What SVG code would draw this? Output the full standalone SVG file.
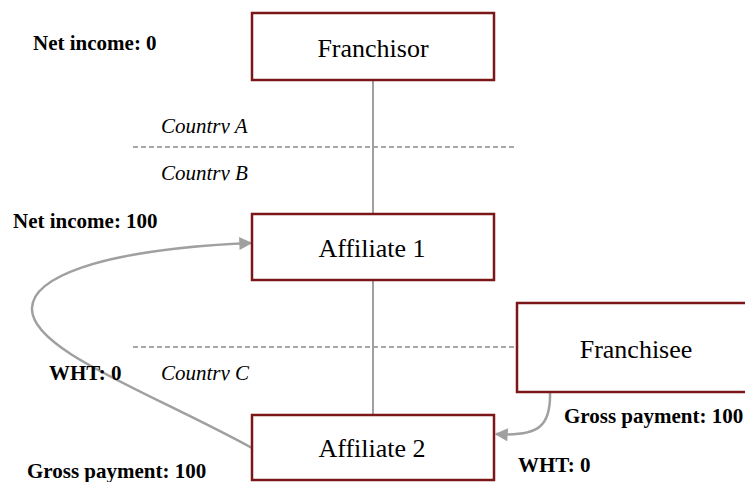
<svg xmlns="http://www.w3.org/2000/svg" width="745" height="482" viewBox="0 0 745 482">
  <style>
    .box { fill: #ffffff; stroke: #7b1719; stroke-width: 2.5; }
    .name { font-family: "Liberation Serif", "Times New Roman", serif; font-size: 26px; fill: #000; text-anchor: middle; }
    .lbl { font-family: "Liberation Serif", "Times New Roman", serif; font-size: 21px; font-weight: bold; fill: #000; }
    .ctry { font-family: "Liberation Serif", "Times New Roman", serif; font-size: 21px; font-style: italic; fill: #000; }
    .border { stroke: #8a8a8a; stroke-width: 1.5; stroke-dasharray: 5 3; fill: none; }
    .link { stroke: #a0a0a0; stroke-width: 2; fill: none; }
    .flow { stroke: #a0a0a0; stroke-width: 2.5; fill: none; marker-end: url(#head); }
  </style>
  <defs>
    <marker id="head" viewBox="0 0 10 10" refX="9" refY="5" markerUnits="userSpaceOnUse" markerWidth="16" markerHeight="13" orient="auto">
      <path d="M0,0 L10,5 L0,10 z" fill="#a0a0a0"/>
    </marker>
    <!-- country captions are cut at the baseline -->
    <clipPath id="ctryClip">
      <rect x="150" y="100" width="120" height="33.5"/>
      <rect x="150" y="150" width="120" height="30.5"/>
      <rect x="150" y="350" width="120" height="30.5"/>
    </clipPath>
  </defs>

  <!-- country borders -->
  <g id="borders">
    <line class="border" x1="133" y1="147" x2="515" y2="147"/>
    <line class="border" x1="133" y1="347" x2="517" y2="347"/>
  </g>

  <!-- connectors -->
  <g id="connectors">
    <line class="link" x1="373" y1="80" x2="373" y2="214"/>
    <line class="link" x1="373" y1="280" x2="373" y2="415"/>
    <path class="flow" d="M252,448 C150,392 30,350 32,308 C33,280 90,250 251,243"/>
    <path class="flow" d="M550,392 C551,425 540,437 496,434"/>
  </g>

  <g id="franchisor">
    <rect class="box" x="252" y="13" width="242" height="67"/>
    <text class="name" x="373" y="57">Franchisor</text>
  </g>

  <g id="affiliate1">
    <rect class="box" x="252" y="214" width="242" height="66"/>
    <text class="name" x="372" y="257">Affiliate 1</text>
  </g>

  <g id="affiliate2">
    <rect class="box" x="252" y="415" width="242" height="65"/>
    <text class="name" x="372" y="457">Affiliate 2</text>
  </g>

  <g id="franchisee">
    <rect class="box" x="517" y="303" width="240" height="89"/>
    <text class="name" x="636" y="358">Franchisee</text>
  </g>

  <!-- country captions -->
  <g id="countries" clip-path="url(#ctryClip)">
    <text class="ctry" x="161" y="133">Country A</text>
    <text class="ctry" x="161" y="180">Country B</text>
    <text class="ctry" x="161" y="380">Country C</text>
  </g>

  <!-- amounts -->
  <g id="amounts">
    <text class="lbl" x="33" y="50">Net income: 0</text>
    <text class="lbl" x="13" y="228">Net income: 100</text>
    <text class="lbl" x="49" y="380">WHT: 0</text>
    <text class="lbl" x="27" y="478">Gross payment: 100</text>
    <text class="lbl" x="564" y="423">Gross payment: 100</text>
    <text class="lbl" x="518" y="472">WHT: 0</text>
  </g>
</svg>
